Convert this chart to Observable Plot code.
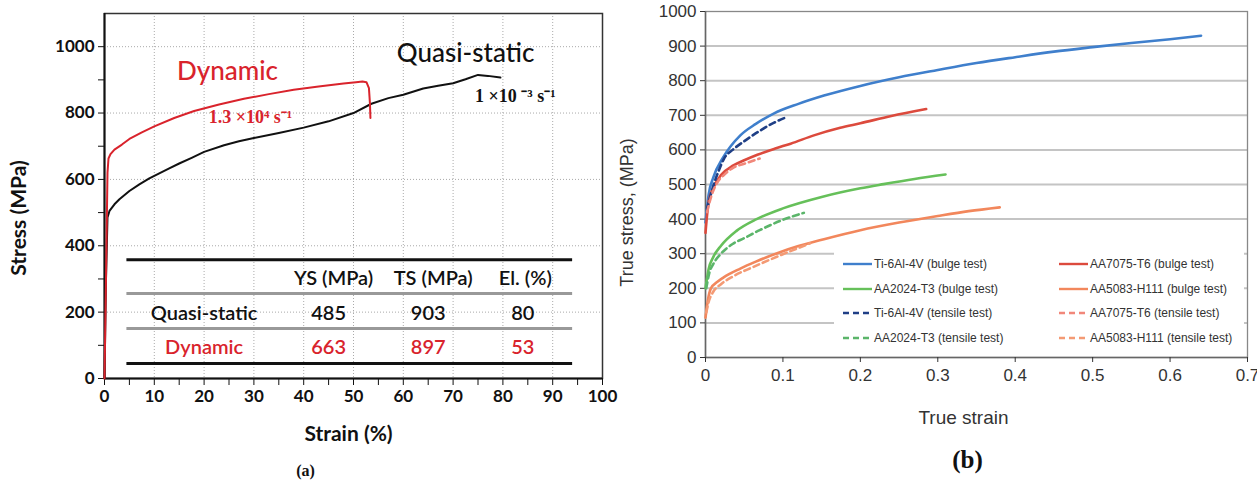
<!DOCTYPE html>
<html><head><meta charset="utf-8">
<script src="https://cdn.jsdelivr.net/npm/d3@7"></script>
<script src="https://cdn.jsdelivr.net/npm/@observablehq/plot@0.6"></script>
<style>
body{margin:0;background:#fff;}
#wrap{position:relative;width:1257px;height:487px;overflow:hidden;background:#fff}
#pa{position:absolute;left:0;top:0}
#pb{position:absolute;left:615px;top:0}
#legend{position:absolute;left:834px;top:242px;width:410px;height:110px;background:#fff}
.li{position:absolute;height:16px;font-family:"Liberation Sans Narrow","Liberation Sans",Arial,sans-serif;font-size:12px;color:#333;white-space:nowrap;line-height:16px}
.li svg{position:absolute;left:0;top:0}
.li span{position:absolute;left:32px;top:0}
</style></head><body>
<div id="wrap"><div id="pa"></div><div id="pb"></div><div id="legend"></div></div>
<script>
// ---------- Panel (a) data ----------
const qsStrain  = [0, 0.3, 0.6, 1, 2, 3, 5, 7, 9, 11, 13, 15, 17.5, 20, 24, 27, 30, 35, 40, 45, 50, 53.6, 57, 60, 64, 67, 70, 72.5, 75, 77, 79.5];
const qsStress  = [0, 300, 485, 505, 525, 540, 565, 585, 603, 618, 633, 648, 665, 683, 703, 715, 725, 740, 756, 775, 800, 828, 845, 855, 874, 882, 890, 902, 915, 912, 907];
const dynStrain = [0, 0.3, 0.6, 0.8, 1.2, 2, 3.5, 5, 7.5, 10, 14, 18, 23, 28, 33, 38, 43, 48, 50.5, 51.8, 52.6, 53.1, 53.3, 53.4];
const dynStress = [0, 300, 620, 663, 676, 690, 705, 722, 742, 760, 785, 806, 826, 843, 857, 870, 880, 889, 893, 895, 893, 875, 830, 785];
const tableRows    = ["Quasi-static", "Dynamic"];
const tableHeaders = ["YS (MPa)", "TS (MPa)", "El. (%)"];
const ysValues = [485, 663];
const tsValues = [903, 897];
const elValues = [80, 53];

// ---------- Panel (b) data ([true strain, true stress MPa]) ----------
const seriesNames = ["Ti-6Al-4V (bulge test)", "AA7075-T6 (bulge test)", "AA2024-T3 (bulge test)", "AA5083-H111 (bulge test)",
                     "Ti-6Al-4V (tensile test)", "AA7075-T6 (tensile test)", "AA2024-T3 (tensile test)", "AA5083-H111 (tensile test)"];
const tiBulge = [[0,390],[0.004,470],[0.01,520],[0.023,579],[0.045,642],[0.065,675],[0.088,705],[0.12,733],[0.153,757],[0.2,785],[0.25,810],[0.3,831],[0.35,851],[0.4,868],[0.45,884],[0.5,897],[0.55,909],[0.6,920],[0.64,930]];
const aa7075Bulge = [[0,360],[0.004,450],[0.01,490],[0.02,527],[0.036,555],[0.05,570],[0.067,586],[0.09,604],[0.11,618],[0.14,642],[0.174,664],[0.2,677],[0.24,698],[0.285,718]];
const aa2024Bulge = [[0,200],[0.004,255],[0.01,290],[0.02,323],[0.04,366],[0.066,400],[0.1,431],[0.15,464],[0.2,489],[0.23,501],[0.27,516],[0.31,529]];
const aa5083Bulge = [[0,115],[0.003,165],[0.007,200],[0.015,218],[0.023,231],[0.045,257],[0.065,277],[0.097,305],[0.12,322],[0.153,342],[0.2,368],[0.25,390],[0.3,409],[0.34,423],[0.38,434]];
const tiTensile = [[0.002,430],[0.01,495],[0.018,545],[0.024,575],[0.035,600],[0.05,625],[0.07,655],[0.088,678],[0.105,695]];
const aa7075Tensile = [[0.002,420],[0.008,470],[0.015,505],[0.025,530],[0.036,549],[0.05,560],[0.07,575]];
const aa2024Tensile = [[0.001,200],[0.005,245],[0.01,270],[0.02,300],[0.035,328],[0.05,345],[0.07,368],[0.1,398],[0.127,418]];
const aa5083Tensile = [[0.001,130],[0.004,160],[0.01,190],[0.02,212],[0.036,235],[0.062,262],[0.093,292],[0.135,330]];
const seriesColors = ["#3f7fcc", "#dc4a3d", "#66c05a", "#f2875c", "#1f3f86", "#f1877a", "#5bb56a", "#f49a74"];

// ---------- Panel (a) ----------
const red = "#d9232c";
const qs = qsStrain.map((x, i) => ({x, y: qsStress[i]}));
const dyn = dynStrain.map((x, i) => ({x, y: dynStress[i]}));
const sans = "Lato, 'Open Sans', sans-serif";
const serif = "'Liberation Serif', 'Times New Roman', serif";
const colX = [46, 66, 84.5];
const valX = [45, 65, 84];
const rowY = [196, 93];
const rowColor = ["#111", red];
const lineY = [358, 256, 151, 45];
const lineC = ["#111", "#999", "#999", "#111"];
const cells = [];
tableRows.forEach((r, i) => {
  [ysValues[i], tsValues[i], elValues[i]].forEach((v, j) => cells.push({x: valX[j], y: rowY[i], t: String(v), c: rowColor[i]}));
});

const pa = Plot.plot({
  width: 612, height: 487,
  marginLeft: 104, marginRight: 10, marginTop: 13, marginBottom: 109,
  x: {domain: [0, 100]},
  y: {domain: [0, 1100]},
  style: {fontFamily: sans, fontSize: "17px", fontWeight: "bold", color: "#111", background: "transparent", overflow: "visible"},
  marks: [
    Plot.gridX(d3.range(10, 100, 10), {stroke: "#aaa", strokeOpacity: 1, strokeDasharray: "1,2"}),
    Plot.gridY(d3.range(200, 1001, 200), {stroke: "#aaa", strokeOpacity: 1, strokeDasharray: "1,2"}),
    Plot.frame({stroke: "#333", strokeWidth: 1.5}),
    Plot.axisX({ticks: d3.range(0, 101, 5), tickSize: 7, tickPadding: 4, tickFormat: d => d % 10 === 0 ? String(d) : "", label: null}),
    Plot.axisY({ticks: d3.range(0, 1001, 100), tickSize: 6, tickPadding: 4, tickFormat: d => d % 200 === 0 ? String(d) : "", label: null}),
    Plot.ruleX([0], {stroke: "#111", strokeWidth: 2}),
    Plot.ruleY([0], {stroke: "#111", strokeWidth: 2}),
    Plot.ruleY(lineY, {y: d => d, x1: 4.5, x2: 94, stroke: (d, i) => lineC[i], strokeWidth: 3}),
    Plot.text(tableHeaders, {x: (d, i) => colX[i], y: 301, text: d => d, fontSize: 20, fontWeight: 600, fill: "#111"}),
    Plot.text(tableRows, {x: 20, y: (d, i) => rowY[i], text: d => d, fontSize: 20, fontWeight: 600, fill: (d, i) => rowColor[i]}),
    Plot.text(cells, {x: "x", y: "y", text: "t", fill: "c", fontSize: 20, fontWeight: 600}),
    Plot.line(qs, {x: "x", y: "y", stroke: "#111", strokeWidth: 2}),
    Plot.line(dyn, {x: "x", y: "y", stroke: red, strokeWidth: 2}),
    Plot.text(["Dynamic"], {x: 24.7, y: 925, text: d => d, fill: red, fontSize: 26, fontWeight: 500}),
    Plot.text(["Quasi-static"], {x: 72.5, y: 978, text: d => d, fill: "#111", fontSize: 26, fontWeight: 500}),
    Plot.text(["1.3 ×10⁴ s⁻¹"], {x: 29.3, y: 786, text: d => d, fill: red, fontSize: 18, fontWeight: "bold", fontFamily: serif}),
    Plot.text(["1 ×10 ⁻³ s⁻¹"], {x: 82.5, y: 852, text: d => d, fill: "#111", fontSize: 18, fontWeight: "bold", fontFamily: serif}),
    Plot.text(["Stress (MPa)"], {frameAnchor: "left", textAnchor: "middle", dx: -85, dy: 22, rotate: -90, text: d => d, fontSize: 21, fontWeight: "bold"}),
    Plot.text(["Strain (%)"], {frameAnchor: "bottom", dx: -5, dy: 62, text: d => d, fontSize: 21, fontWeight: "bold"}),
    Plot.text(["(a)"], {frameAnchor: "bottom", dx: -48, dy: 97, text: d => d, fontSize: 16, fontWeight: "bold", fontFamily: serif})
  ]
});
document.getElementById("pa").appendChild(pa);

// ---------- Panel (b) ----------
const allSeries = [tiBulge, aa7075Bulge, aa2024Bulge, aa5083Bulge, tiTensile, aa7075Tensile, aa2024Tensile, aa5083Tensile];
const pts = [];
allSeries.forEach((s, k) => s.forEach(([x, y]) => pts.push({x, y, k, name: seriesNames[k]})));
const solid = pts.filter(d => d.k < 4);
const dashed = pts.filter(d => d.k >= 4);
const narrow = "'Liberation Sans Narrow', 'Liberation Sans', Arial, sans-serif";

const pb = Plot.plot({
  width: 642, height: 487,
  marginLeft: 90, marginRight: 10, marginTop: 11, marginBottom: 130,
  x: {domain: [0, 0.7]},
  y: {domain: [0, 1000]},
  style: {fontFamily: narrow, fontSize: "17px", color: "#333", background: "transparent", overflow: "visible"},
  marks: [
    Plot.gridY(d3.range(100, 1000, 100), {stroke: "#c4c4c4", strokeOpacity: 1, strokeWidth: 2}),
    Plot.frame({stroke: "#888", strokeWidth: 1.3}),
    Plot.ruleX([0], {stroke: "#666", strokeWidth: 1.5}),
    Plot.ruleY([0], {stroke: "#666", strokeWidth: 1.5}),
    Plot.axisX({ticks: d3.range(0, 8).map(i => i / 10), tickSize: 5, tickPadding: 6, tickFormat: d => d === 0 ? "0" : d3.format(".1f")(d), label: null}),
    Plot.axisY({ticks: d3.range(0, 1001, 100), tickSize: 5, tickPadding: 4, tickFormat: d => String(d), label: null}),
    Plot.line(solid, {x: "x", y: "y", z: "k", stroke: d => seriesColors[d.k], strokeWidth: 2.6, curve: "monotone-x"}),
    Plot.line(dashed, {x: "x", y: "y", z: "k", stroke: d => seriesColors[d.k], strokeWidth: 2.6, strokeDasharray: "6,4", curve: "monotone-x"}),
    Plot.text(["True stress, (MPa)"], {frameAnchor: "left", textAnchor: "middle", dx: -78, dy: 28, rotate: -90, text: d => d, fontSize: 18}),
    Plot.text(["True strain"], {frameAnchor: "bottom", dx: -13, dy: 66, text: d => d, fontSize: 19}),
    Plot.text(["(b)"], {frameAnchor: "bottom", dx: -9, dy: 110, text: d => d, fontSize: 25, fontWeight: "bold", fill: "#111", fontFamily: serif})
  ]
});
document.getElementById("pb").appendChild(pb);

// ---------- Legend (inside plot b) ----------
const legendOrder = [0, 1, 2, 3, 4, 5, 6, 7];
const leg = document.getElementById("legend");
legendOrder.forEach((k, i) => {
  const col = i % 2, row = Math.floor(i / 2);
  const item = document.createElement("div");
  item.className = "li";
  item.style.left = (col === 0 ? 8 : 224) + "px";
  item.style.top = (14 + row * 24.5) + "px";
  const dash = k >= 4 ? 'stroke-dasharray="6,4"' : "";
  item.innerHTML = `<svg width="32" height="16"><line x1="1" x2="30" y1="8" y2="8" stroke="${seriesColors[k]}" stroke-width="2.4" ${dash}/></svg><span>${seriesNames[k]}</span>`;
  leg.appendChild(item);
});
</script>
</body></html>
